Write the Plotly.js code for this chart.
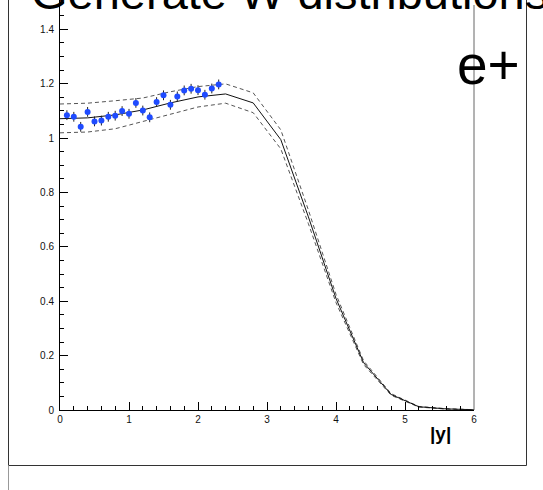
<!DOCTYPE html>
<html>
<head>
<meta charset="utf-8">
<script src="https://cdn.plot.ly/plotly-3.0.1.min.js"></script>
<style>
  html, body { margin: 0; padding: 0; background: #fff; }
  #plot { width: 543px; height: 490px; }
</style>
</head>
<body>
<div id="plot"></div>
<script>
// Measured W -> e+ rapidity distribution (ratio), bins in |y|
const dataY = [0.1, 0.2, 0.3, 0.4, 0.5, 0.6, 0.7, 0.8, 0.9, 1.0, 1.1, 1.2,
               1.3, 1.4, 1.5, 1.6, 1.7, 1.8, 1.9, 2.0, 2.1, 2.2, 2.3];
const dataVal = [1.084, 1.078, 1.041, 1.096, 1.061, 1.064, 1.078, 1.082, 1.099, 1.089, 1.129, 1.101,
                 1.076, 1.132, 1.157, 1.122, 1.153, 1.175, 1.181, 1.176, 1.159, 1.182, 1.197];
const dataErr = [0.018, 0.018, 0.018, 0.018, 0.018, 0.018, 0.018, 0.018, 0.018, 0.018, 0.018, 0.018,
                 0.018, 0.018, 0.018, 0.018, 0.018, 0.018, 0.018, 0.018, 0.018, 0.018, 0.018];

// Generated prediction with its uncertainty band
const genY = [0, 0.4, 0.8, 1.2, 1.6, 2.0, 2.4, 2.8, 3.2, 3.6, 4.0, 4.4, 4.8, 5.2, 5.6, 6.0];
const genCentral = [1.071, 1.074, 1.085, 1.103, 1.129, 1.151, 1.162, 1.129, 0.994, 0.710, 0.410, 0.174, 0.057, 0.012, 0.004, 0.001];
const genUpper   = [1.125, 1.128, 1.137, 1.147, 1.170, 1.189, 1.199, 1.166, 1.030, 0.735, 0.425, 0.181, 0.060, 0.013, 0.005, 0.001];
const genLower   = [1.019, 1.022, 1.034, 1.060, 1.088, 1.114, 1.128, 1.093, 0.960, 0.685, 0.395, 0.167, 0.054, 0.011, 0.003, 0.001];

const W = 543, H = 490;
const M = { l: 60, r: 69, t: 0, b: 80 };
const plotW = W - M.l - M.r, plotH = H - M.t - M.b;
// pixel -> paper helpers for frame decorations
const px = x => (x - M.l) / plotW;
const py = y => (H - M.b - y) / plotH;

const FONT = '"Liberation Sans", Arial, Helvetica, sans-serif';

const traces = [
  {
    x: genY, y: genUpper, mode: 'lines', type: 'scatter', hoverinfo: 'skip',
    line: { color: '#555', width: 1, dash: '4px,3px' }
  },
  {
    x: genY, y: genLower, mode: 'lines', type: 'scatter', hoverinfo: 'skip',
    line: { color: '#555', width: 1, dash: '4px,3px' }
  },
  {
    x: genY, y: genCentral, mode: 'lines', type: 'scatter', hoverinfo: 'skip',
    line: { color: '#111', width: 1 }
  },
  {
    x: dataY, y: dataVal, mode: 'markers', type: 'scatter',
    marker: { color: '#1f4bff', size: 6, line: { width: 0 } },
    error_y: { type: 'data', array: dataErr, visible: true, color: '#222', thickness: 1, width: 0 }
  }
];

const axisCommon = {
  showline: true, linecolor: '#000', linewidth: 1,
  ticks: 'inside', ticklen: 8, tickcolor: '#000', tickwidth: 1,
  showgrid: false, zeroline: false,
  tickfont: { family: FONT, size: 10, color: '#111' }
};

const layout = {
  width: W, height: H,
  margin: { l: M.l, r: M.r, t: M.t, b: M.b, pad: 0 },
  paper_bgcolor: '#fff', plot_bgcolor: '#fff',
  showlegend: false,
  xaxis: Object.assign({}, axisCommon, {
    range: [0, 6], tick0: 0, dtick: 1,
    minor: { dtick: 0.2, ticks: 'inside', ticklen: 4, tickcolor: '#000' }
  }),
  yaxis: Object.assign({}, axisCommon, {
    range: [0, plotH / 272], tick0: 0, dtick: 0.2,
    ticklabelstandoff: 3,
    minor: { dtick: 0.05, ticks: 'inside', ticklen: 4, tickcolor: '#000' }
  }),
  shapes: [
    // right edge of the frame
    { type: 'line', xref: 'paper', yref: 'paper', x0: 1, x1: 1, y0: 0, y1: py(5),
      line: { color: '#666', width: 1 } },
    // outer pad border
    { type: 'line', xref: 'paper', yref: 'paper', x0: px(8.5), x1: px(8.5), y0: py(465.5), y1: py(0),
      line: { color: '#333', width: 1 } },
    { type: 'line', xref: 'paper', yref: 'paper', x0: px(8.5), x1: px(526.5), y0: py(465.5), y1: py(465.5),
      line: { color: '#333', width: 1 } },
    { type: 'line', xref: 'paper', yref: 'paper', x0: px(526.5), x1: px(526.5), y0: py(465.5), y1: py(0),
      line: { color: '#333', width: 1 } },
    { type: 'line', xref: 'paper', yref: 'paper', x0: px(8.5), x1: px(8.5), y0: py(490), y1: py(465.5),
      line: { color: '#999', width: 1 } }
  ],
  annotations: [
    { text: 'Generate W distributions', xref: 'paper', yref: 'paper',
      x: px(30), y: py(19.5), xanchor: 'left', yanchor: 'bottom', showarrow: false, borderpad: 0,
      font: { family: FONT, size: 47, color: '#000' } },
    { text: 'e+', xref: 'paper', yref: 'paper',
      x: px(456), y: py(97), xanchor: 'left', yanchor: 'bottom', showarrow: false, borderpad: 0,
      font: { family: FONT, size: 55, color: '#000' } },
    { text: '<b>|y|</b>', xref: 'paper', yref: 'paper',
      x: px(440), y: py(433), xanchor: 'center', yanchor: 'middle', showarrow: false, borderpad: 0,
      font: { family: FONT, size: 19, color: '#000' } }
  ]
};

Plotly.newPlot('plot', traces, layout, { staticPlot: true, displayModeBar: false });
</script>
</body>
</html>
